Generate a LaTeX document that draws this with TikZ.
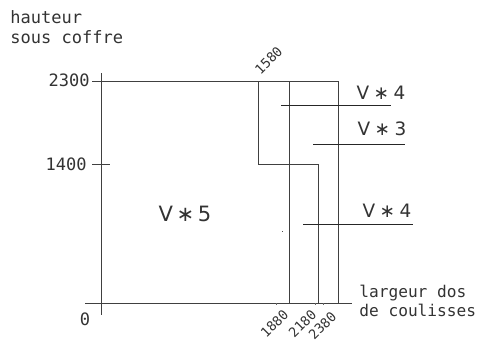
\documentclass[tikz,border=0pt]{standalone}
\usepackage{fontspec}
\newfontfamily\cadfont{DejaVu Sans Mono}
\newfontfamily\cadsans{DejaVu Sans}
\begin{document}
\begin{tikzpicture}[x=0.02cm,y=-0.02cm,
  cadline/.style={draw=black!75,line width=0.55pt},
  lead/.style={draw=black!85,line width=0.55pt},
  lbl/.style={inner sep=0pt,text=black!80,font=\cadfont\fontsize{9.7}{11}\selectfont},
  vlbl/.style={inner sep=0pt,text=black!80,font=\cadsans\fontsize{10.5}{12}\selectfont},
  rlbl/.style={inner sep=0pt,text=black!80,rotate=45,anchor=east,font=\cadfont\fontsize{7.6}{9}\selectfont}]
\useasboundingbox (0,0) rectangle (480,343);
% coordinates
\coordinate (yaT) at (101,73);
\coordinate (yaB) at (101,315);
\coordinate (xaL) at (85,303);
\coordinate (xaR) at (352,303);
\coordinate (tL) at (92,81);
\coordinate (tR) at (338,81);
\coordinate (mL) at (92,164);
\coordinate (mR) at (110,164);
\coordinate (a1T) at (258,81);
\coordinate (a1B) at (258,164);
\coordinate (sR) at (318,164);
\coordinate (a2T) at (289,81);
\coordinate (a2B) at (289,303);
\coordinate (a3B) at (318,303);
\coordinate (a4B) at (338,303);
% axes and frame
\draw[cadline] (yaT) -- (yaB);
\draw[cadline] (xaL) -- (xaR);
\draw[cadline] (tL) -- (tR) -- (a4B);
\draw[cadline] (mL) -- (mR);
\draw[cadline] (a1T) -- (a1B) -- (sR) -- (a3B);
\draw[cadline] (a2T) -- (a2B);
% leaders
\coordinate (l1a) at (281,105); \coordinate (l1b) at (391,105);
\coordinate (l2a) at (313,144); \coordinate (l2b) at (405,144);
\coordinate (l3a) at (303,224); \coordinate (l3b) at (413,224);
\draw[lead] (l1a) -- (l1b);
\draw[lead] (l2a) -- (l2b);
\draw[lead] (l3a) -- (l3b);
% small marks
\fill[black!70] (281.5,230.5) rectangle (283,232);
\fill[black!60] (275.5,303) rectangle (277,304.5);
\fill[black!60] (314.5,303) rectangle (316,304.5);
\fill[black!60] (322.5,303) rectangle (324,304.5);
% texts
\node[lbl,anchor=base west] (h1) at (10,23) {hauteur};
\node[lbl,anchor=base west] (h2) at (10,43) {sous coffre};
\node[lbl,anchor=east] (n2300) at (90,80.5) {2300};
\node[lbl,anchor=east] (n1400) at (87,164) {1400};
\node[lbl] (n0) at (85,319) {0};
\node[vlbl,font=\cadsans\fontsize{12}{14}\selectfont] (v5) at (185,214) {V\hspace{2pt}∗\hspace{2pt}5};
\node[vlbl] (v4a) at (381,93) {V\hspace{2.5pt}∗\hspace{2.5pt}4};
\node[vlbl] (v3) at (382,129) {V\hspace{2.5pt}∗\hspace{2.5pt}3};
\node[vlbl] (v4b) at (387,211) {V\hspace{2.5pt}∗\hspace{2.5pt}4};
\node[lbl,font=\cadfont\fontsize{9.2}{11}\selectfont,anchor=base west] (w1) at (359,297) {largeur dos};
\node[lbl,font=\cadfont\fontsize{9.2}{11}\selectfont,anchor=base west] (w2) at (359,316) {de coulisses};
\node[rlbl,anchor=west] (r1580) at (257,72) {1580};
\node[rlbl] (r1880) at (286,312) {1880};
\node[rlbl] (r2180) at (314,312) {2180};
\node[rlbl] (r2380) at (334,314) {2380};
\end{tikzpicture}
\end{document}
